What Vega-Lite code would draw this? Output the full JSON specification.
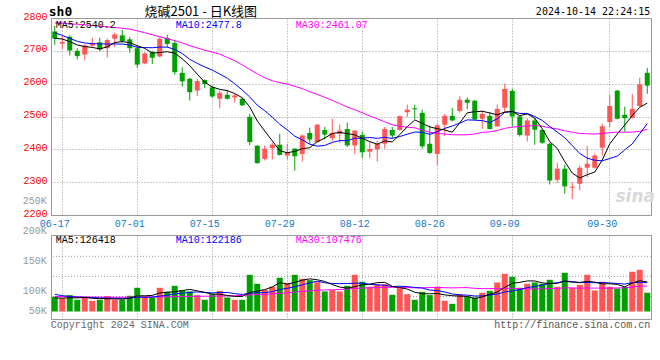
{
"$schema":"https://vega.github.io/schema/vega-lite/v6.json",
"background":"white",
"padding":{"left":0,"top":5,"right":0,"bottom":0},
"bounds":"flush",
"spacing":20,
"config":{
 "view":{"stroke":"#999999","strokeWidth":1},
 "axis":{"labelFont":"Liberation Mono","labelFontSize":10,"ticks":false,"domain":false,"title":null,"gridDash":[1,2],"gridColor":"#999999","gridWidth":1},
 "line":{"strokeWidth":1},
 "text":{"font":"Liberation Mono","fontSize":10}
},
"datasets":{"k":[
{"d":"2024-06-17","o":2759,"h":2776,"l":2718,"c":2737,"m5":2738,"m10":2755,"m30":2785,"v":90000,"vm5":88000,"vm10":94000,"vm30":90500},
{"d":"2024-06-18","o":2722,"h":2745,"l":2705,"c":2727,"m5":2736,"m10":2747,"m30":2784,"v":87800,"vm5":87800,"vm10":92000,"vm30":90300},
{"d":"2024-06-19","o":2743,"h":2747,"l":2686,"c":2701,"m5":2728,"m10":2738,"m30":2782,"v":92800,"vm5":88500,"vm10":90500,"vm30":90200},
{"d":"2024-06-20","o":2700,"h":2708,"l":2674,"c":2684,"m5":2718,"m10":2729,"m30":2781,"v":85000,"vm5":88200,"vm10":89500,"vm30":90000},
{"d":"2024-06-21","o":2689,"h":2720,"l":2671,"c":2716,"m5":2713,"m10":2724,"m30":2779,"v":88900,"vm5":88900,"vm10":89000,"vm30":89800},
{"d":"2024-06-24","o":2716,"h":2740,"l":2712,"c":2724,"m5":2710.4,"m10":2722,"m30":2777,"v":83300,"vm5":87560,"vm10":88500,"vm30":89600},
{"d":"2024-06-25","o":2726,"h":2740,"l":2699,"c":2704,"m5":2705.8,"m10":2721,"m30":2775,"v":85000,"vm5":87000,"vm10":88000,"vm30":89500},
{"d":"2024-06-26","o":2708,"h":2737,"l":2680,"c":2733,"m5":2712.2,"m10":2721,"m30":2773,"v":91100,"vm5":86660,"vm10":87800,"vm30":89400},
{"d":"2024-06-27","o":2737,"h":2755,"l":2711,"c":2750,"m5":2725.4,"m10":2721,"m30":2771,"v":85600,"vm5":86780,"vm10":87600,"vm30":89300},
{"d":"2024-06-28","o":2747,"h":2764,"l":2724,"c":2730,"m5":2728.2,"m10":2720.6,"m30":2769,"v":85000,"vm5":86000,"vm10":87450,"vm30":89300},
{"d":"2024-07-01","o":2735,"h":2742,"l":2694,"c":2708,"m5":2725,"m10":2717.7,"m30":2766,"v":91700,"vm5":87680,"vm10":87620,"vm30":89300},
{"d":"2024-07-02","o":2708,"h":2716,"l":2648,"c":2658,"m5":2715.8,"m10":2710.8,"m30":2761,"v":105000,"vm5":91680,"vm10":89340,"vm30":89400},
{"d":"2024-07-03","o":2662,"h":2696,"l":2659,"c":2692,"m5":2707.6,"m10":2709.9,"m30":2755,"v":91100,"vm5":91680,"vm10":89170,"vm30":89500},
{"d":"2024-07-04","o":2696,"h":2700,"l":2660,"c":2679,"m5":2693.4,"m10":2709.4,"m30":2749,"v":88900,"vm5":92340,"vm10":89560,"vm30":89600},
{"d":"2024-07-05","o":2683,"h":2741,"l":2680,"c":2737,"m5":2694.8,"m10":2711.5,"m30":2743,"v":105000,"vm5":96340,"vm10":91170,"vm30":89800},
{"d":"2024-07-08","o":2739,"h":2749,"l":2711,"c":2721,"m5":2697.4,"m10":2711.2,"m30":2737,"v":98300,"vm5":97660,"vm10":92670,"vm30":90000},
{"d":"2024-07-09","o":2724,"h":2734,"l":2627,"c":2635,"m5":2692.8,"m10":2704.3,"m30":2731,"v":108300,"vm5":98320,"vm10":95000,"vm30":90200},
{"d":"2024-07-10","o":2633,"h":2650,"l":2591,"c":2607,"m5":2675.8,"m10":2691.7,"m30":2724,"v":101100,"vm5":100320,"vm10":96000,"vm30":90500},
{"d":"2024-07-11","o":2615,"h":2618,"l":2549,"c":2574,"m5":2654.8,"m10":2674.1,"m30":2716,"v":98900,"vm5":102320,"vm10":97330,"vm30":90700},
{"d":"2024-07-12","o":2579,"h":2615,"l":2562,"c":2608,"m5":2629,"m10":2661.9,"m30":2709,"v":92800,"vm5":99880,"vm10":98110,"vm30":90900},
{"d":"2024-07-15","o":2611,"h":2613,"l":2586,"c":2599,"m5":2604.6,"m10":2651,"m30":2702,"v":85000,"vm5":97220,"vm10":97440,"vm30":91000},
{"d":"2024-07-16","o":2589,"h":2594,"l":2556,"c":2561,"m5":2589.8,"m10":2641.3,"m30":2696,"v":94400,"vm5":94440,"vm10":96380,"vm30":91200},
{"d":"2024-07-17","o":2554,"h":2579,"l":2525,"c":2572,"m5":2582.8,"m10":2629.3,"m30":2690,"v":100000,"vm5":94220,"vm10":97270,"vm30":91400},
{"d":"2024-07-18","o":2566,"h":2582,"l":2552,"c":2554,"m5":2578.8,"m10":2616.8,"m30":2680,"v":88900,"vm5":92220,"vm10":97270,"vm30":91600},
{"d":"2024-07-19","o":2558,"h":2568,"l":2542,"c":2564,"m5":2570,"m10":2599.5,"m30":2670,"v":85000,"vm5":90660,"vm10":95270,"vm30":91800},
{"d":"2024-07-22","o":2554,"h":2557,"l":2532,"c":2534,"m5":2557,"m10":2580.8,"m30":2657,"v":85000,"vm5":90660,"vm10":93940,"vm30":92200},
{"d":"2024-07-23","o":2499,"h":2508,"l":2412,"c":2422,"m5":2529.2,"m10":2559.5,"m30":2643,"v":126700,"vm5":97120,"vm10":95780,"vm30":93000},
{"d":"2024-07-24","o":2411,"h":2413,"l":2356,"c":2358,"m5":2486.4,"m10":2534.6,"m30":2630,"v":111700,"vm5":99460,"vm10":96840,"vm30":93600},
{"d":"2024-07-25","o":2371,"h":2412,"l":2366,"c":2402,"m5":2456,"m10":2517.4,"m30":2618,"v":101700,"vm5":102020,"vm10":97120,"vm30":94000},
{"d":"2024-07-26","o":2404,"h":2420,"l":2369,"c":2414,"m5":2426,"m10":2498,"m30":2609,"v":106700,"vm5":106360,"vm10":98510,"vm30":94690},
{"d":"2024-07-29","o":2414,"h":2447,"l":2381,"c":2383,"m5":2395.8,"m10":2476.4,"m30":2603,"v":121700,"vm5":113700,"vm10":102180,"vm30":95747},
{"d":"2024-07-30","o":2381,"h":2417,"l":2369,"c":2391,"m5":2389.6,"m10":2459.4,"m30":2599,"v":113300,"vm5":111020,"vm10":104070,"vm30":96597},
{"d":"2024-07-31","o":2402,"h":2404,"l":2335,"c":2379,"m5":2393.8,"m10":2440.1,"m30":2592,"v":126700,"vm5":114020,"vm10":106740,"vm30":97727},
{"d":"2024-08-01","o":2386,"h":2445,"l":2363,"c":2442,"m5":2401.8,"m10":2428.9,"m30":2585,"v":120000,"vm5":117680,"vm10":109850,"vm30":98893},
{"d":"2024-08-02","o":2450,"h":2466,"l":2417,"c":2430,"m5":2405,"m10":2415.5,"m30":2575.5,"v":117800,"vm5":119900,"vm10":113130,"vm30":99857},
{"d":"2024-08-05","o":2422,"h":2477,"l":2420,"c":2475,"m5":2423.4,"m10":2409.6,"m30":2567.2,"v":114400,"vm5":118440,"vm10":116070,"vm30":100893},
{"d":"2024-08-06","o":2459,"h":2468,"l":2430,"c":2445,"m5":2434.2,"m10":2411.9,"m30":2558.6,"v":98900,"vm5":115560,"vm10":113290,"vm30":101357},
{"d":"2024-08-07","o":2434,"h":2493,"l":2424,"c":2450,"m5":2448.4,"m10":2421.1,"m30":2549.1,"v":101100,"vm5":110440,"vm10":112230,"vm30":101690},
{"d":"2024-08-08","o":2447,"h":2475,"l":2420,"c":2457,"m5":2451.4,"m10":2426.6,"m30":2539.4,"v":98900,"vm5":106220,"vm10":111950,"vm30":102133},
{"d":"2024-08-09","o":2462,"h":2481,"l":2407,"c":2412,"m5":2447.8,"m10":2426.4,"m30":2528.8,"v":108300,"vm5":104320,"vm10":112110,"vm30":102910},
{"d":"2024-08-12","o":2412,"h":2459,"l":2386,"c":2457,"m5":2444.2,"m10":2433.8,"m30":2520.4,"v":126700,"vm5":106780,"vm10":112610,"vm30":104077},
{"d":"2024-08-13","o":2444,"h":2454,"l":2373,"c":2391,"m5":2433.4,"m10":2433.8,"m30":2511.5,"v":115000,"vm5":110000,"vm10":112780,"vm30":104410},
{"d":"2024-08-14","o":2393,"h":2422,"l":2373,"c":2401,"m5":2423.6,"m10":2436,"m30":2501.8,"v":106700,"vm5":111120,"vm10":110780,"vm30":104930},
{"d":"2024-08-15","o":2400,"h":2427,"l":2363,"c":2417,"m5":2415.6,"m10":2433.5,"m30":2493.1,"v":111100,"vm5":113560,"vm10":109890,"vm30":105670},
{"d":"2024-08-16","o":2417,"h":2468,"l":2402,"c":2462,"m5":2425.6,"m10":2436.7,"m30":2483.9,"v":111100,"vm5":114120,"vm10":109220,"vm30":105873},
{"d":"2024-08-19","o":2459,"h":2468,"l":2432,"c":2442,"m5":2422.6,"m10":2433.4,"m30":2474.6,"v":93300,"vm5":107440,"vm10":107110,"vm30":105707},
{"d":"2024-08-20","o":2459,"h":2503,"l":2457,"c":2501,"m5":2444.6,"m10":2439,"m30":2470.1,"v":104400,"vm5":105320,"vm10":107660,"vm30":105577},
{"d":"2024-08-21","o":2513,"h":2536,"l":2498,"c":2521,"m5":2468.6,"m10":2446.1,"m30":2467.3,"v":94400,"vm5":102860,"vm10":106990,"vm30":105353},
{"d":"2024-08-22","o":2525,"h":2536,"l":2493,"c":2522,"m5":2489.6,"m10":2452.6,"m30":2465.5,"v":85000,"vm5":97640,"vm10":105600,"vm30":104890},
{"d":"2024-08-23","o":2511,"h":2521,"l":2402,"c":2409,"m5":2479,"m10":2452.3,"m30":2458.9,"v":98300,"vm5":95080,"vm10":104600,"vm30":105073},
{"d":"2024-08-26","o":2417,"h":2473,"l":2386,"c":2389,"m5":2468.4,"m10":2445.5,"m30":2451.9,"v":92800,"vm5":94980,"vm10":101210,"vm30":105333},
{"d":"2024-08-27","o":2386,"h":2478,"l":2351,"c":2473,"m5":2462.8,"m10":2453.7,"m30":2449,"v":106700,"vm5":95440,"vm10":100380,"vm30":105743},
{"d":"2024-08-28","o":2475,"h":2508,"l":2440,"c":2502,"m5":2459,"m10":2463.8,"m30":2446.6,"v":83300,"vm5":93220,"vm10":98040,"vm30":105187},
{"d":"2024-08-29","o":2502,"h":2526,"l":2485,"c":2488,"m5":2452.2,"m10":2470.9,"m30":2444.4,"v":78300,"vm5":91880,"vm10":94760,"vm30":104833},
{"d":"2024-08-30","o":2517,"h":2562,"l":2512,"c":2551,"m5":2480.6,"m10":2479.8,"m30":2444,"v":94400,"vm5":91100,"vm10":93090,"vm30":105147},
{"d":"2024-09-02","o":2551,"h":2558,"l":2523,"c":2542,"m5":2511.2,"m10":2489.8,"m30":2444.3,"v":90600,"vm5":90660,"vm10":92820,"vm30":105333},
{"d":"2024-09-03","o":2548,"h":2550,"l":2489,"c":2491,"m5":2514.8,"m10":2488.8,"m30":2446.6,"v":88900,"vm5":87100,"vm10":91270,"vm30":104073},
{"d":"2024-09-04","o":2493,"h":2518,"l":2462,"c":2508,"m5":2516,"m10":2487.5,"m30":2451.6,"v":96700,"vm5":89780,"vm10":91500,"vm30":103573},
{"d":"2024-09-05","o":2502,"h":2513,"l":2460,"c":2462,"m5":2510.8,"m10":2481.5,"m30":2453.6,"v":100000,"vm5":94120,"vm10":93000,"vm30":103517},
{"d":"2024-09-06","o":2470,"h":2536,"l":2468,"c":2523,"m5":2505.2,"m10":2492.9,"m30":2457.2,"v":113900,"vm5":98020,"vm10":94560,"vm30":103757},
{"d":"2024-09-09","o":2527,"h":2600,"l":2511,"c":2584,"m5":2513.6,"m10":2512.4,"m30":2463.9,"v":128300,"vm5":105560,"vm10":98110,"vm30":103977},
{"d":"2024-09-10","o":2578,"h":2584,"l":2468,"c":2500,"m5":2515.4,"m10":2515.1,"m30":2467.5,"v":123300,"vm5":112440,"vm10":99770,"vm30":104310},
{"d":"2024-09-11","o":2500,"h":2502,"l":2439,"c":2444,"m5":2502.6,"m10":2509.3,"m30":2469.7,"v":105000,"vm5":114100,"vm10":101940,"vm30":103587},
{"d":"2024-09-12","o":2442,"h":2495,"l":2424,"c":2488,"m5":2507.8,"m10":2509.3,"m30":2471.2,"v":111700,"vm5":116440,"vm10":105280,"vm30":103310},
{"d":"2024-09-13","o":2488,"h":2495,"l":2414,"c":2460,"m5":2495.2,"m10":2500.2,"m30":2472.2,"v":113900,"vm5":116440,"vm10":107230,"vm30":103180},
{"d":"2024-09-18","o":2459,"h":2461,"l":2417,"c":2420,"m5":2462.4,"m10":2488,"m30":2470.4,"v":111700,"vm5":113120,"vm10":109340,"vm30":103090},
{"d":"2024-09-19","o":2417,"h":2420,"l":2293,"c":2305,"m5":2423.4,"m10":2469.4,"m30":2465.7,"v":118300,"vm5":112120,"vm10":112280,"vm30":103737},
{"d":"2024-09-20","o":2307,"h":2359,"l":2298,"c":2341,"m5":2402.8,"m10":2452.7,"m30":2462.1,"v":106700,"vm5":112460,"vm10":113280,"vm30":103923},
{"d":"2024-09-23","o":2341,"h":2353,"l":2265,"c":2287,"m5":2362.6,"m10":2435.2,"m30":2456.4,"v":130000,"vm5":116120,"vm10":116280,"vm30":104960},
{"d":"2024-09-24","o":2283,"h":2300,"l":2249,"c":2286,"m5":2327.8,"m10":2411.4,"m30":2452.2,"v":105000,"vm5":114340,"vm10":115390,"vm30":104850},
{"d":"2024-09-25","o":2295,"h":2351,"l":2275,"c":2344,"m5":2312.6,"m10":2387.4,"m30":2448.4,"v":110000,"vm5":114000,"vm10":113560,"vm30":104293},
{"d":"2024-09-26","o":2344,"h":2410,"l":2315,"c":2356,"m5":2322.8,"m10":2373,"m30":2447.3,"v":126700,"vm5":115680,"vm10":113900,"vm30":104683},
{"d":"2024-09-27","o":2344,"h":2386,"l":2342,"c":2381,"m5":2330.8,"m10":2366.7,"m30":2446.6,"v":100600,"vm5":114460,"vm10":113460,"vm30":104480},
{"d":"2024-09-30","o":2405,"h":2478,"l":2381,"c":2470,"m5":2367.4,"m10":2364.9,"m30":2448.4,"v":115000,"vm5":111460,"vm10":113790,"vm30":104610},
{"d":"2024-10-08","o":2483,"h":2566,"l":2468,"c":2532,"m5":2416.6,"m10":2372.1,"m30":2450.7,"v":106700,"vm5":111800,"vm10":113070,"vm30":104463},
{"d":"2024-10-09","o":2579,"h":2581,"l":2491,"c":2493,"m5":2446.4,"m10":2379.4,"m30":2452.4,"v":103900,"vm5":110580,"vm10":112290,"vm30":104817},
{"d":"2024-10-10","o":2505,"h":2530,"l":2454,"c":2495,"m5":2474.2,"m10":2398.4,"m30":2452.2,"v":106700,"vm5":106580,"vm10":111130,"vm30":104893},
{"d":"2024-10-11","o":2496,"h":2569,"l":2494,"c":2523,"m5":2502.6,"m10":2416.6,"m30":2452.3,"v":131700,"vm5":112800,"vm10":113630,"vm30":106137},
{"d":"2024-10-14","o":2532,"h":2618,"l":2530,"c":2598,"m5":2528.2,"m10":2447.7,"m30":2454.8,"v":135000,"vm5":116800,"vm10":114130,"vm30":107803},
{"d":"2024-10-15","o":2633,"h":2648,"l":2569,"c":2594,"m5":2540.6,"m10":2478.6,"m30":2461.1,"v":96700,"vm5":114800,"vm10":113300,"vm30":107750}
]},
"vconcat":[
{
 "width":600,"height":197,
 "layer":[
  {"data":{"name":"k"},"mark":{"type":"rule"},
   "encoding":{
    "x":{"field":"d","type":"ordinal","sort":null,"title":null,"scale":{"type":"band","paddingInner":0,"paddingOuter":0},
      "axis":{"values":["2024-06-17","2024-07-01","2024-07-15","2024-07-29","2024-08-12","2024-08-26","2024-09-09","2024-09-30"],"labelExpr":"substring(datum.value, 5)","bandPosition":1.5,"labelColor":"#1478d2","grid":true,"labelPadding":3,"labelAngle":0,"labelOverlap":false}},
    "y":{"field":"l","type":"quantitative","title":null,"scale":{"domain":[2200,2800],"zero":false,"nice":false},
      "axis":{"values":[2200,2300,2400,2500,2600,2700,2800],"tickCount":7,"format":"d","labelOverlap":false,"labelColor":"#ff0000","grid":true,"labelPadding":4,"labelOffset":-2,"minExtent":50}},
    "y2":{"field":"h"},
    "color":{"condition":{"test":"datum.c >= datum.o","value":"#ff5555"},"value":"#00a000"}}},
  {"data":{"name":"k"},"mark":{"type":"bar","width":5},
   "encoding":{
    "x":{"field":"d","type":"ordinal","sort":null,"title":null},
    "y":{"field":"o","type":"quantitative","title":null,"scale":{"domain":[2200,2800],"zero":false,"nice":false}},
    "y2":{"field":"c"},
    "color":{"condition":{"test":"datum.c >= datum.o","value":"#ff5555"},"value":"#00a000"}}},
  {"data":{"name":"k"},"mark":{"type":"line","color":"#ff00ff"},
   "encoding":{"x":{"field":"d","type":"ordinal","sort":null,"title":null},"y":{"field":"m30","type":"quantitative","title":null}}},
  {"data":{"name":"k"},"mark":{"type":"line","color":"#0000ff"},
   "encoding":{"x":{"field":"d","type":"ordinal","sort":null,"title":null},"y":{"field":"m10","type":"quantitative","title":null}}},
  {"data":{"name":"k"},"mark":{"type":"line","color":"#000000"},
   "encoding":{"x":{"field":"d","type":"ordinal","sort":null,"title":null},"y":{"field":"m5","type":"quantitative","title":null}}},
  {"data":{"values":[{}]},"mark":{"type":"text","text":"MA5:2540.2","align":"left","baseline":"middle","dx":1,"dy":7,"color":"#000000"},
   "encoding":{"x":{"datum":"2024-06-17","type":"ordinal"},"y":{"datum":2800,"type":"quantitative"}}},
  {"data":{"values":[{}]},"mark":{"type":"text","text":"MA10:2477.8","align":"left","baseline":"middle","dx":1,"dy":7,"color":"#0000ff"},
   "encoding":{"x":{"datum":"2024-07-09","type":"ordinal"},"y":{"datum":2800,"type":"quantitative"}}},
  {"data":{"values":[{}]},"mark":{"type":"text","text":"MA30:2461.07","align":"left","baseline":"middle","dx":1,"dy":7,"color":"#ff00ff"},
   "encoding":{"x":{"datum":"2024-07-31","type":"ordinal"},"y":{"datum":2800,"type":"quantitative"}}},
  {"data":{"values":[{}]},"mark":{"type":"text","text":"sh0","align":"left","baseline":"middle","dx":-6,"dy":-6,"font":"DejaVu Sans Mono","fontSize":13,"fontWeight":"bold","color":"#000000"},
   "encoding":{"x":{"datum":"2024-06-17","type":"ordinal"},"y":{"datum":2800,"type":"quantitative"}}},
  {"data":{"values":[{}]},"mark":{"type":"text","text":"烧碱2501 - 日K线图","align":"center","baseline":"middle","dx":-4,"dy":-6,"font":"Noto Sans CJK SC","fontSize":13,"color":"#000000"},
   "encoding":{"x":{"datum":"2024-07-15","type":"ordinal"},"y":{"datum":2800,"type":"quantitative"}}},
  {"data":{"values":[{}]},"mark":{"type":"text","text":"2024-10-14 22:24:15","align":"right","baseline":"middle","dx":3,"dy":-6,"font":"DejaVu Sans Mono","fontSize":10,"color":"#000000"},
   "encoding":{"x":{"datum":"2024-10-15","type":"ordinal"},"y":{"datum":2800,"type":"quantitative"}}},
  {"data":{"values":[{}]},"mark":{"type":"text","text":"sina","align":"center","baseline":"middle","dx":3,"font":"DejaVu Sans","fontSize":17,"fontWeight":"bold","fontStyle":"italic","color":"#d9d9d9"},
   "encoding":{"x":{"datum":"2024-10-11","type":"ordinal"},"y":{"datum":2255,"type":"quantitative"}}}
 ]
},
{
 "width":600,"height":84,
 "layer":[
  {"data":{"values":[{"g":157500},{"g":124000},{"g":90500}]},"mark":{"type":"rule","color":"#999999","strokeDash":[1,2]},
   "encoding":{"y":{"field":"g","type":"quantitative","title":null,"scale":{"domain":[53000,193000],"zero":false,"nice":false},
     "axis":{"labels":false,"grid":false,"minExtent":50}}}},
  {"data":{"name":"k"},"mark":{"type":"bar","width":6},
   "encoding":{
    "x":{"field":"d","type":"ordinal","sort":null,"title":null,"scale":{"type":"band","paddingInner":0,"paddingOuter":0},
      "axis":{"values":["2024-06-17","2024-07-01","2024-07-15","2024-07-29","2024-08-12","2024-08-26","2024-09-09","2024-09-30"],"bandPosition":1.5,"labels":false,"grid":true}},
    "y":{"field":"v","type":"quantitative","title":null,"scale":{"domain":[53000,193000],"zero":false,"nice":false}},
    "y2":{"datum":65500},
    "color":{"condition":{"test":"datum.c >= datum.o","value":"#ff5555"},"value":"#00a000"}}},
  {"data":{"name":"k"},"mark":{"type":"line","color":"#ff00ff"},
   "encoding":{"x":{"field":"d","type":"ordinal","sort":null,"title":null},"y":{"field":"vm30","type":"quantitative","title":null}}},
  {"data":{"name":"k"},"mark":{"type":"line","color":"#0000ff"},
   "encoding":{"x":{"field":"d","type":"ordinal","sort":null,"title":null},"y":{"field":"vm10","type":"quantitative","title":null}}},
  {"data":{"name":"k"},"mark":{"type":"line","color":"#000000"},
   "encoding":{"x":{"field":"d","type":"ordinal","sort":null,"title":null},"y":{"field":"vm5","type":"quantitative","title":null}}},
  {"data":{"values":[{"v":250000,"t":"250K"},{"v":200000,"t":"200K"},{"v":150000,"t":"150K"},{"v":100000,"t":"100K"}]},
   "mark":{"type":"text","align":"right","baseline":"middle","dx":-8,"color":"#999999"},
   "encoding":{"x":{"datum":"2024-06-17","type":"ordinal"},"y":{"field":"v","type":"quantitative","title":null},"text":{"field":"t"}}},
  {"data":{"values":[{"v":50000,"t":"50K"}]},
   "mark":{"type":"text","align":"right","baseline":"middle","dx":-8,"dy":-10,"color":"#999999"},
   "encoding":{"x":{"datum":"2024-06-17","type":"ordinal"},"y":{"field":"v","type":"quantitative","title":null},"text":{"field":"t"}}},
  {"data":{"values":[{}]},"mark":{"type":"text","text":"MA5:126418","align":"left","baseline":"middle","dx":1,"dy":5,"color":"#000000"},
   "encoding":{"x":{"datum":"2024-06-17","type":"ordinal"},"y":{"datum":193000,"type":"quantitative"}}},
  {"data":{"values":[{}]},"mark":{"type":"text","text":"MA10:122186","align":"left","baseline":"middle","dx":1,"dy":5,"color":"#0000ff"},
   "encoding":{"x":{"datum":"2024-07-09","type":"ordinal"},"y":{"datum":193000,"type":"quantitative"}}},
  {"data":{"values":[{}]},"mark":{"type":"text","text":"MA30:107476","align":"left","baseline":"middle","dx":1,"dy":5,"color":"#ff00ff"},
   "encoding":{"x":{"datum":"2024-07-31","type":"ordinal"},"y":{"datum":193000,"type":"quantitative"}}},
  {"data":{"values":[{}]},"mark":{"type":"text","text":"Copyright 2024 SINA.COM","align":"left","baseline":"middle","dx":-4,"dy":6,"color":"#666666"},
   "encoding":{"x":{"datum":"2024-06-17","type":"ordinal"},"y":{"datum":53000,"type":"quantitative"}}},
  {"data":{"values":[{}]},"mark":{"type":"text","text":"http://finance.sina.com.cn","align":"right","baseline":"middle","dx":3,"dy":6,"color":"#555555"},
   "encoding":{"x":{"datum":"2024-10-15","type":"ordinal"},"y":{"datum":53000,"type":"quantitative"}}}
 ]
}
]
}
